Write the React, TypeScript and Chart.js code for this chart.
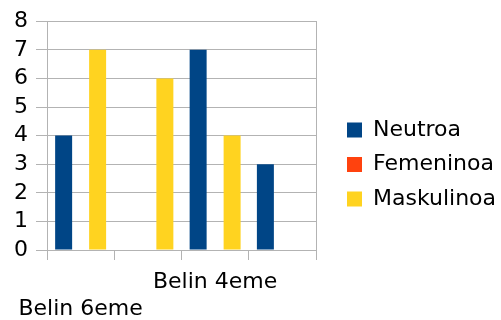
import React, { useEffect, useRef } from "react";
import { Chart, registerables } from "chart.js";

Chart.register(...registerables);

const categories = ["Belin 6eme", "", "Belin 4eme", ""];
const labelRow = [1, 0, 0, 0];
const neutroa = [4, 0, 7, 3];
const femeninoa = [0, 0, 0, 0];
const maskulinoa = [7, 6, 4, 0];
const yTicks = [0, 1, 2, 3, 4, 5, 6, 7, 8];

const FONT = "'DejaVu Sans', sans-serif";
const GRID = "#b3b3b3";

export default function App() {
  const ref = useRef<HTMLCanvasElement | null>(null);
  useEffect(() => {
    if (!ref.current) return;
    const chart = new Chart(ref.current, {
      type: "bar",
      data: {
        labels: categories,
        datasets: [
          { label: "Neutroa", data: neutroa, backgroundColor: "#004586", borderWidth: 0 },
          { label: "Femeninoa", data: femeninoa, backgroundColor: "#ff420e", borderWidth: 0 },
          { label: "Maskulinoa", data: maskulinoa, backgroundColor: "#ffd320", borderWidth: 0 },
        ],
      },
      options: {
        responsive: false,
        animation: false,
        layout: { padding: { top: 21, left: 0, bottom: 0, right: 4 } },
        datasets: { bar: { barPercentage: 1, categoryPercentage: 0.758 } },
        plugins: {
          tooltip: { enabled: false },
          legend: {
            position: "right",
            align: "start",
            maxWidth: 162.5,
            title: {
              display: true,
              text: "",
              font: { size: 10, lineHeight: 1 },
              padding: { top: 75.5, bottom: 0 },
            },
            labels: {
              boxWidth: 15,
              boxHeight: 15,
              padding: 12.5,
              color: "#000",
              font: { family: FONT, size: 22 },
            },
          },
        },
        scales: {
          x: {
            grid: {
              drawOnChartArea: false,
              drawTicks: true,
              tickLength: 10,
              tickColor: GRID,
              color: GRID,
            },
            border: { color: GRID },
            ticks: {
              autoSkip: false,
              maxRotation: 0,
              padding: 9,
              color: "#000",
              font: { family: FONT, size: 22, lineHeight: 27 / 22 },
              callback: (_v: any, i: number) =>
                labelRow[i] === 1 ? ["", categories[i]] : categories[i],
            },
            afterFit: (s: any) => {
              s.height = 70;
            },
          },
          y: {
            min: 0,
            max: 8,
            afterBuildTicks: (s: any) => {
              s.ticks = yTicks.map((v) => ({ value: v }));
            },
            grid: { color: GRID, tickLength: 11, tickColor: GRID },
            border: { color: GRID },
            ticks: {
              autoSkip: false,
              padding: 8,
              color: "#000",
              font: { family: FONT, size: 22 },
            },
            afterFit: (s: any) => {
              s.width = 47;
            },
          },
          y2: {
            position: "right",
            display: true,
            min: 0,
            max: 8,
            grid: { drawOnChartArea: false, drawTicks: false },
            border: { color: GRID },
            ticks: { display: false },
            afterFit: (s: any) => {
              s.width = 18.5;
            },
          },
        },
      },
    });
    return () => chart.destroy();
  }, []);
  return (
    <div style={{ position: "absolute", left: 0, top: 0, width: 501, height: 320 }}>
      <canvas ref={ref} width={501} height={320} />
    </div>
  );
}
